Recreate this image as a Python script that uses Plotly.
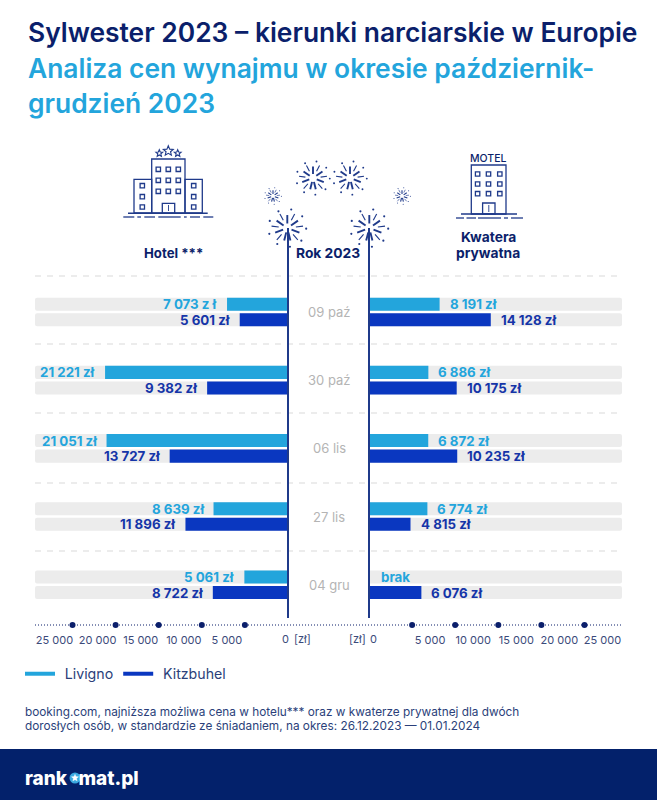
import math
import plotly.graph_objects as go

W, H = 657, 800
FONT = "Inter"
NAVY = "#0b1f6b"
LINE = "#1f3a8a"
LIGHT = "#23a5dc"
DARK = "#0a37c0"
DARKTXT = "#1535a8"
TRACKC = "#ececec"

DATES = ["09 paź", "30 paź", "06 lis", "27 lis", "04 gru"]
HOTEL_LIVIGNO = [7073, 21221, 21051, 8639, 5061]
HOTEL_KITZ = [5601, 9382, 13727, 11896, 8722]
KWATERA_LIVIGNO = [8191, 6886, 6872, 6774, None]
KWATERA_KITZ = [14128, 10175, 10235, 4815, 6076]
HOTEL_LIVIGNO_LABELS = ["7 073 z ł", "21 221 zł", "21 051 zł", "8 639 zł", "5 061 zł"]
HOTEL_KITZ_LABELS = ["5 601 zł", "9 382 zł", "13 727 zł", "11 896 zł", "8 722 zł"]
KWATERA_LIVIGNO_LABELS = ["8 191 zł", "6 886 zł", "6 872 zł", "6 774 zł", "brak"]
KWATERA_KITZ_LABELS = ["14 128 zł", "10 175 zł", "10 235 zł", "4 815 zł", "6 076 zł"]
AXIS_MAX = 29350
TICKS = [5000, 10000, 15000, 20000, 25000]
TICK_LABELS = ["5 000", "10 000", "15 000", "20 000", "25 000"]

rows = list(range(len(DATES)))
YTOP, YBOT = -0.527, 4.59


def px(x):
    return x / W


def py(y):
    return 1 - y / H


shapes = []


def seg(x0, y0, x1, y1, color=LINE, width=1.3, dash=None):
    shapes.append(dict(type="line", xref="paper", yref="paper", x0=px(x0), y0=py(y0), x1=px(x1), y1=py(y1),
                       line=dict(color=color, width=width, dash=dash), layer="above"))


def box(x0, y0, x1, y1, color=LINE, width=1.3, fill=None):
    shapes.append(dict(type="rect", xref="paper", yref="paper", x0=px(x0), y0=py(y0), x1=px(x1), y1=py(y1),
                       line=dict(color=color, width=width), fillcolor=fill or "rgba(0,0,0,0)", layer="above"))


def dot(x, y, r, color=LINE):
    shapes.append(dict(type="circle", xref="paper", yref="paper", x0=px(x - r), y0=py(y - r), x1=px(x + r), y1=py(y + r),
                       line=dict(width=0), fillcolor=color, layer="above"))


def star(cx, cy, r, color=LINE, fill="rgba(0,0,0,0)", width=1.1):
    pts = []
    for i in range(10):
        a = -math.pi / 2 + i * math.pi / 5
        rr = r if i % 2 == 0 else r * 0.45
        pts.append((px(cx + rr * math.cos(a)), py(cy + rr * math.sin(a))))
    path = "M " + " L ".join(f"{a:.5f},{b:.5f}" for a, b in pts) + " Z"
    shapes.append(dict(type="path", xref="paper", yref="paper", path=path, line=dict(color=color, width=width),
                       fillcolor=fill, layer="above"))


def firework(cx, cy, r, w=1.4):
    n = 13
    for i in range(n):
        a = math.pi / 2 + (i + 0.5) * 2 * math.pi / n
        inner = 0.25 if i % 2 == 0 else 0.48
        outer = 0.72 if i % 2 == 0 else 0.88
        ww = w * (1.35 if i % 2 == 0 else 0.8)
        seg(cx + inner * r * math.cos(a), cy + inner * r * math.sin(a),
            cx + outer * r * math.cos(a), cy + outer * r * math.sin(a), width=ww)
    for i in range(9):
        a = -math.pi * 1.1 + i * 2 * math.pi / 9
        dot(cx + 1.05 * r * math.cos(a), cy + 1.05 * r * math.sin(a), max(0.5, r * 0.06))


# --- footer
shapes.append(dict(type="rect", xref="paper", yref="paper", x0=0, x1=1, y0=0, y1=py(749),
                   fillcolor="#03216b", line=dict(width=0), layer="below"))

# --- dashed separators
for y in [276, 344, 413, 483, 551]:
    shapes.append(dict(type="line", xref="paper", yref="paper", x0=px(35), x1=px(622), y0=py(y), y1=py(y),
                       line=dict(color="#d9d9d9", width=1, dash="6px,6px"), layer="below"))

# --- dotted axis line
shapes.append(dict(type="line", xref="paper", yref="paper", x0=px(35), x1=px(622), y0=py(625), y1=py(625),
                   line=dict(color=NAVY, width=1, dash="1px,2px"), layer="below"))

# --- central column
seg(288, 228, 288, 618, width=2)
seg(369, 228, 369, 618, width=2)

# --- hotel icon
box(151.7, 159, 185, 213)
box(134, 179.3, 151.7, 213)
box(185, 179.3, 202.3, 213)
seg(128, 213.3, 207.7, 213.3, width=1.6)
for a, b in [(123.3, 134.3), (137.3, 141), (144.3, 155), (158.3, 180.7), (184, 186.7), (190, 200), (203.3, 213.3)]:
    seg(a, 217, b, 217)
for x in [158.3, 168.3, 178.3]:
    for y in [169.3, 180.3, 191.3]:
        box(x - 2.2, y - 2.2, x + 2.2, y + 2.2)
for x in [142.3, 193.7]:
    for y in [185.7, 196.7, 207]:
        box(x - 2.2, y - 2.2, x + 2.2, y + 2.2)
box(162.3, 203.3, 174.7, 213.3)
seg(168.5, 205, 168.5, 211, width=0.9)
star(159.3, 153.3, 3.6)
star(168.3, 151, 5.2)
star(177.7, 153.3, 3.6)

# --- motel icon
box(471.3, 165, 506, 214)
seg(461, 214, 517, 214, width=1.6)
for a, b in [(456, 464), (466.5, 476), (478, 501), (504, 508), (511, 523)]:
    seg(a, 218, b, 218)
for x in [477.6, 488.5, 499.8]:
    for y in [174, 184, 193.7]:
        box(x - 2.2, y - 2.2, x + 2.2, y + 2.2)
box(482.6, 203, 495, 214)
seg(488.8, 205, 488.8, 212, width=0.9)

# --- fireworks
firework(313, 178, 16)
firework(350, 178, 16)
firework(273, 196, 8, w=0.8)
firework(402, 196, 8, w=0.8)
firework(287.3, 228, 18)
firework(369.3, 228, 18)

# --- logo
dot(75, 778, 5.5, "#3aa9e0")
star(75, 778, 3.8, color="white", fill="white", width=0.3)

annotations = []


def note(x, y, text, size, color=NAVY, weight=400, anchor="left"):
    annotations.append(dict(xref="paper", yref="paper", x=px(x), y=py(y), text=text, showarrow=False, xanchor=anchor,
                            yanchor="middle", font=dict(family=FONT, size=size, color=color, weight=weight),
                            borderpad=0, borderwidth=0))


note(28, 32, "Sylwester 2023 – kierunki narciarskie w Europie", 26.4, NAVY, 600)
note(28, 68, "Analiza cen wynajmu w okresie październik-", 26.4, LIGHT, 600)
note(28, 103, "grudzień 2023", 26.4, LIGHT, 600)
note(173.5, 253, "Hotel ***", 13.2, NAVY, 700, "center")
note(328, 253, "Rok 2023", 13.8, NAVY, 700, "center")
note(488, 237, "Kwatera", 13.8, NAVY, 700, "center")
note(488, 253, "prywatna", 13.8, NAVY, 700, "center")
note(488, 158, "MOTEL", 10.5, NAVY, 500, "center")
note(25, 712, "booking.com, najniższa możliwa cena w hotelu*** oraz w kwaterze prywatnej dla dwóch", 11.8, "#2b3f7a", 400)
note(25, 726, "dorosłych osób, w standardzie ze śniadaniem, na okres: 26.12.2023 — 01.01.2024", 11.8, "#2b3f7a", 400)
note(25, 778, 'rank<span style="color:rgba(0,0,0,0)">o</span>mat.pl', 19, "white", 800)
note(285, 639, "0", 11, "#3b4a7a", 400, "center")
note(302, 639, "[zł]", 11, "#3b4a7a", 400, "center")
note(357, 639, "[zł]", 11, "#3b4a7a", 400, "center")
note(373, 639, "0", 11, "#3b4a7a", 400, "center")

for i, d in zip(rows, DATES):
    annotations.append(dict(xref="paper", yref="y", x=px(329), y=i, text=d, showarrow=False, xanchor="center",
                            font=dict(family=FONT, size=13, color="#b4b4b4")))


def bar_labels(xref, yref, values, labels, color, sign, yshift):
    for i, v, t in zip(rows, values, labels):
        missing = v is None
        annotations.append(dict(xref=xref, yref=yref, x=0 if missing else v, y=i, text=t, showarrow=False,
                                xanchor="left" if sign > 0 else "right",
                                xshift=sign * (10 if missing else 8), yshift=yshift,
                                font=dict(family=FONT, size=13.3, color=color, weight=700)))


bar_labels("x", "y", HOTEL_LIVIGNO, HOTEL_LIVIGNO_LABELS, LIGHT, -1, 7.75)
bar_labels("x", "y", HOTEL_KITZ, HOTEL_KITZ_LABELS, DARKTXT, -1, -7.75)
bar_labels("x2", "y2", KWATERA_LIVIGNO, KWATERA_LIVIGNO_LABELS, LIGHT, 1, 7.75)
bar_labels("x2", "y2", KWATERA_KITZ, KWATERA_KITZ_LABELS, DARKTXT, 1, -7.75)

fig = go.Figure()


def add_side(xa, ya, liv, kitz):
    track = [AXIS_MAX] * len(rows)
    for group, vals, color in [("a", liv, LIGHT), ("b", kitz, DARK)]:
        fig.add_trace(go.Bar(y=rows, x=track, orientation="h", xaxis=xa, yaxis=ya, offsetgroup=group,
                             marker=dict(color=TRACKC, cornerradius=2, line=dict(width=0)),
                             showlegend=False, hoverinfo="skip"))
        fig.add_trace(go.Bar(y=rows, x=vals, orientation="h", xaxis=xa, yaxis=ya, offsetgroup=group,
                             marker=dict(color=color, cornerradius=2, line=dict(width=0)),
                             showlegend=False))
    fig.add_trace(go.Scatter(x=TICKS, y=[YBOT] * len(TICKS), xaxis=xa, yaxis=ya, mode="markers", cliponaxis=False,
                             marker=dict(color=NAVY, size=6), showlegend=False, hoverinfo="skip"))


add_side("x", "y", HOTEL_LIVIGNO, HOTEL_KITZ)
add_side("x2", "y2", KWATERA_LIVIGNO, KWATERA_KITZ)

for name, color in [("\u2004Livigno", LIGHT), ("\u2004Kitzbuhel", DARK)]:
    fig.add_trace(go.Scatter(x=[None], y=[None], xaxis="x", yaxis="y", mode="lines", name=name,
                             line=dict(color=color, width=4)))

ydom = [py(625), py(276)]
tickfont = dict(family=FONT, size=11, color="#3b4a7a")
yaxis_cfg = dict(domain=ydom, range=[YBOT, YTOP], visible=False, fixedrange=True)
fig.update_layout(
    width=W, height=H, autosize=False,
    margin=dict(l=0, r=0, t=0, b=0),
    paper_bgcolor="white", plot_bgcolor="rgba(0,0,0,0)",
    barmode="group", bargap=0.545, bargroupgap=0.16,
    shapes=shapes, annotations=annotations,
    xaxis=dict(domain=[px(35), px(288)], range=[AXIS_MAX, 0], anchor="y", tickvals=TICKS, ticktext=TICK_LABELS,
               ticklabelshift=18, ticklabelstandoff=7, ticks="", showgrid=False, zeroline=False, showline=False,
               tickfont=tickfont, fixedrange=True),
    xaxis2=dict(domain=[px(369), px(622)], range=[0, AXIS_MAX], anchor="y2", tickvals=TICKS, ticktext=TICK_LABELS,
                ticklabelshift=18, ticklabelstandoff=7, ticks="", showgrid=False, zeroline=False, showline=False,
                tickfont=tickfont, fixedrange=True),
    yaxis=dict(anchor="x", **yaxis_cfg),
    yaxis2=dict(anchor="x2", **yaxis_cfg),
    showlegend=True,
    legend=dict(orientation="h", x=px(20), y=py(674), xanchor="left", yanchor="middle", bgcolor="rgba(0,0,0,0)",
                font=dict(family=FONT, size=14.2, color="#2b3f7a"), itemwidth=30),
    font=dict(family=FONT),
)

fig.write_html("out.html", config=dict(displayModeBar=False), post_script="document.body.style.margin='0';")
